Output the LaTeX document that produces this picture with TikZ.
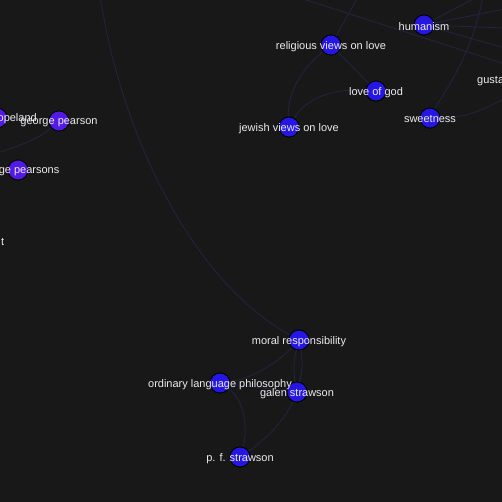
\documentclass[tikz,border=0pt]{standalone}
\usepackage{fontspec}
\setmainfont{Liberation Sans}
\usepackage{xcolor}
\usetikzlibrary{positioning}

\definecolor{bgdark}{RGB}{24,24,24}
\definecolor{nodeblue}{RGB}{38,22,226}
\definecolor{nodeviolet}{RGB}{82,26,228}
\definecolor{edgedim}{RGB}{36,34,62}
\definecolor{labelgray}{RGB}{236,236,240}

\begin{document}
\begin{tikzpicture}[
    x=1pt, y=-1pt,
    topic/.style={circle, draw=black, fill=nodeblue, minimum size=20pt, inner sep=0pt, line width=0.8pt},
    person/.style={topic, fill=nodeviolet},
    tag/.style={text=labelgray, font=\fontsize{11}{13}\selectfont, inner sep=0pt, yshift=-1.5pt},
    link/.style={draw=edgedim, line width=0.9pt}
    ]

    % --- Fondo ---
    \fill[bgdark] (0,0) rectangle (502,502);
    \useasboundingbox (0,0) rectangle (502,502);
    \clip (0,0) rectangle (502,502);

    % --- Nodos ---
    \node (humanism) [topic] at (424,25) {};
    \node (religious) [topic] at (331,45) {};
    \node (lovegod) [topic] at (376,91) {};
    \node (sweetness) [topic] at (430,118) {};
    \node (jewish) [topic] at (289,127) {};
    \node (copeland) [person] at (-3,118) {};
    \node (pearson) [person] at (59,121) {};
    \node (pearsons) [person] at (18,170) {};
    \node (moral) [topic] at (299,340) {};
    \node (ordinary) [topic] at (220,383) {};
    \node (galen) [topic] at (297,392) {};
    \node (pfstrawson) [topic] at (240,457) {};

    % --- Extremos fuera del cuadro ---
    \coordinate (topA) at (100,-5);
    \coordinate (topB) at (297,-3);
    \coordinate (topC) at (358,-3);
    \coordinate (topD) at (477,-3);
    \coordinate (topE) at (483,-3);
    \coordinate (rightA) at (505,64);
    \coordinate (rightB) at (505,9);
    \coordinate (rightC) at (505,28);
    \coordinate (rightD) at (505,48);
    \coordinate (rightE) at (505,98);
    \coordinate (leftA) at (-3,153);

    % --- Conexiones ---
    \path[link] (topA) .. controls (120,130) and (190,280) .. (moral);
    \path[link] (topB) -- (rightA);
    \path[link] (religious) -- (topC);
    \path[link] (humanism) -- (topD);
    \path[link] (humanism) -- (rightB);
    \path[link] (humanism) -- (rightC);
    \path[link] (humanism) -- (rightD);
    \path[link] (topE) .. controls (470,60) and (445,90) .. (sweetness);
    \path[link] (sweetness) .. controls (470,118) and (490,106) .. (rightE);
    \path[link] (pearson) .. controls (40,138) and (20,146) .. (leftA);
    \path[link] (religious) .. controls (300,70) and (287,95) .. (jewish);
    \path[link] (religious) -- (lovegod);
    \path[link] (lovegod) .. controls (330,88) and (305,100) .. (jewish);
    \path[link] (ordinary) .. controls (255,378) and (280,360) .. (moral);
    \path[link] (moral) to[bend right=12] (galen);
    \path[link] (moral) to[bend left=12] (galen);
    \path[link] (ordinary) -- (galen);
    \path[link] (ordinary) .. controls (245,400) and (248,430) .. (pfstrawson);
    \path[link] (galen) .. controls (285,420) and (265,440) .. (pfstrawson);

    % --- Redibujar nodos encima de las conexiones ---
    \foreach \n in {humanism, religious, lovegod, sweetness, jewish, moral, ordinary, galen, pfstrawson}
        \node[topic] at (\n) {};
    \foreach \n in {copeland, pearson, pearsons}
        \node[person] at (\n) {};

    % --- Etiquetas ---
    \node (humanism-l) [tag] at (humanism) {humanism};
    \node (religious-l) [tag] at (religious) {religious views on love};
    \node (lovegod-l) [tag] at (lovegod) {love of god};
    \node (sweetness-l) [tag] at (sweetness) {sweetness};
    \node (jewish-l) [tag] at (jewish) {jewish views on love};
    \node (copeland-l) [tag, anchor=east] at (37,117) {opeland};
    \node (pearson-l) [tag] at (pearson) {george pearson};
    \node (pearsons-l) [tag, anchor=east] at (59.5,170) {ge pearsons};
    \node (cut-l) [tag, anchor=east] at (4.5,240) {t};
    \node (gusta-l) [tag, anchor=west] at (477,80) {gusta};
    \node (moral-l) [tag] at (moral) {moral responsibility};
    \node (ordinary-l) [tag] at (ordinary) {ordinary language philosophy};
    \node (galen-l) [tag] at (galen) {galen strawson};
    \node (pfstrawson-l) [tag] at (pfstrawson) {p. f. strawson};

\end{tikzpicture}
\end{document}
